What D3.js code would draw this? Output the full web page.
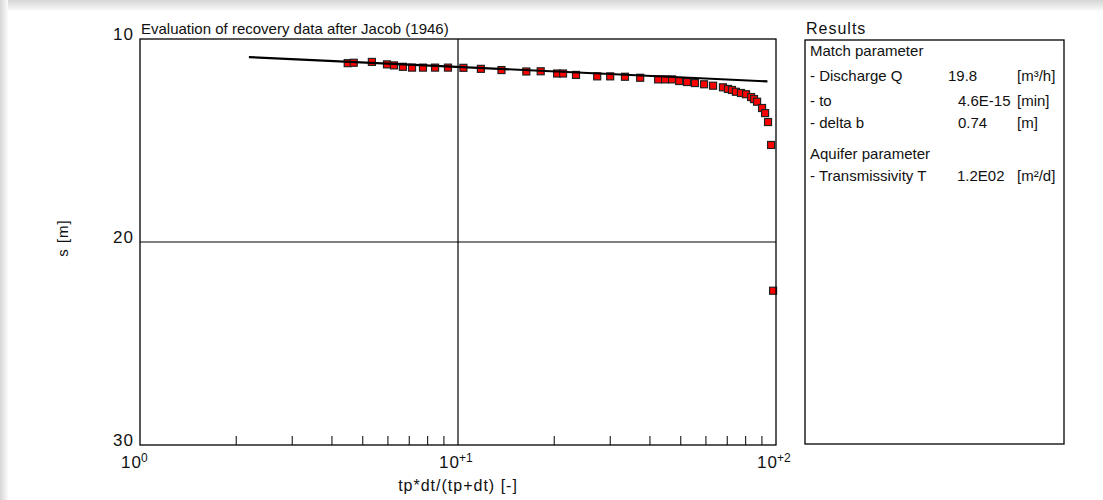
<!DOCTYPE html>
<html>
<head>
<meta charset="utf-8">
<script src="https://cdn.jsdelivr.net/npm/d3@7"></script>
<style>
  body { margin: 0; background: #fff; }
  svg { display: block; font-family: "Liberation Sans", Arial, sans-serif; }
</style>
</head>
<body>
<svg id="chart" width="1103" height="500"></svg>
<script>
// measured recovery data: x = tp*dt/(tp+dt) [-], s [m]
var recoveryX = [4.5, 4.7, 5.36, 5.98, 6.29, 6.71, 7.17, 7.76, 8.47, 9.30,
    10.4, 11.8, 13.7, 16.4, 18.2, 20.5, 21.4, 23.5, 27.4, 30.1,
    33.5, 37.4, 42.6, 44.8, 47.1, 49.6, 52.5, 55.6, 59.4, 63.4,
    68.1, 70.6, 72.7, 74.8, 77.6, 80.5, 83.5, 85.3, 87.2, 90.4,
    92.4, 94.4, 96.5, 97.9];
var recoveryS = [11.19, 11.17, 11.13, 11.25, 11.30, 11.37, 11.41, 11.41, 11.41, 11.41,
    11.42, 11.47, 11.53, 11.60, 11.59, 11.70, 11.70, 11.77, 11.84, 11.84,
    11.86, 11.91, 11.99, 11.99, 11.99, 12.07, 12.12, 12.17, 12.23, 12.30,
    12.38, 12.46, 12.51, 12.60, 12.66, 12.72, 12.86, 12.96, 13.09, 13.40,
    13.65, 14.09, 15.22, 22.40];

// Jacob straight line end points
var lineX = [2.2, 94];
var lineS = [10.89, 12.09];

var xMajor = [1, 10, 100];
var xMajorExp = ["0", "+1", "+2"];
var yTicks = [10, 20, 30];

var resultRows = [
    { label: "Match parameter", value: "", unit: "" },
    { label: "- Discharge Q", value: "19.8", unit: "[m\u00b3/h]" },
    { label: "- to", value: "4.6E-15", unit: "[min]" },
    { label: "- delta b", value: "0.74", unit: "[m]" },
    { label: "Aquifer parameter", value: "", unit: "" },
    { label: "- Transmissivity T", value: "1.2E02", unit: "[m\u00b2/d]" }
];
var resultY = [56, 81, 106, 128, 159, 181];
var resultValueX = [0, 948, 958, 958, 0, 957];

var svg = d3.select("#chart");

// faint window shadow on top and left
var defs = svg.append("defs");
var gTop = defs.append("linearGradient").attr("id", "shTop").attr("x1", 0).attr("y1", 0).attr("x2", 0).attr("y2", 1);
gTop.append("stop").attr("offset", "0%").attr("stop-color", "#d6d6d6");
gTop.append("stop").attr("offset", "100%").attr("stop-color", "#fbfbfb");
var gLeft = defs.append("linearGradient").attr("id", "shLeft").attr("x1", 0).attr("y1", 0).attr("x2", 1).attr("y2", 0);
gLeft.append("stop").attr("offset", "0%").attr("stop-color", "#d6d6d6");
gLeft.append("stop").attr("offset", "100%").attr("stop-color", "#fbfbfb");
svg.append("rect").attr("x", 0).attr("y", 0).attr("width", 1103).attr("height", 11).attr("fill", "url(#shTop)");
svg.append("rect").attr("x", 0).attr("y", 0).attr("width", 8).attr("height", 500).attr("fill", "url(#shLeft)");

var plotL = 140, plotR = 776, plotT = 39, plotB = 445;

var x = d3.scaleLog().domain([1, 100]).range([plotL, plotR]);
var y = d3.scaleLinear().domain([10, 30]).range([plotT, plotB]);

// minor ticks along the bottom edge
var minor = [];
[1, 10].forEach(function(d) {
    for (var k = 2; k <= 9; k++) minor.push(d * k);
});
svg.append("g")
    .attr("transform", "translate(0," + plotB + ")")
    .call(d3.axisBottom(x).tickValues(minor).tickSizeInner(-9).tickSizeOuter(0).tickFormat(""))
    .call(function(g) {
        g.select(".domain").remove();
        g.selectAll("line").attr("stroke", "#000");
    });

// grid lines
svg.append("line")
    .attr("x1", x(10)).attr("x2", x(10)).attr("y1", plotT).attr("y2", plotB)
    .attr("stroke", "#000").attr("stroke-width", 1.2);
svg.append("line")
    .attr("x1", plotL).attr("x2", plotR).attr("y1", y(20)).attr("y2", y(20))
    .attr("stroke", "#000").attr("stroke-width", 1.2);

// data points
svg.append("g").selectAll("rect")
    .data(recoveryX)
    .enter()
    .append("rect")
    .attr("x", function(d) { return x(d) - 3.5; })
    .attr("y", function(d, i) { return y(recoveryS[i]) - 3.5; })
    .attr("width", 7)
    .attr("height", 7)
    .attr("fill", "#ff0000")
    .attr("stroke", "#222")
    .attr("stroke-width", 1.2);

// Jacob line
var line = d3.line()
    .x(function(d) { return x(d); })
    .y(function(d, i) { return y(lineS[i]); });
svg.append("path")
    .attr("d", line(lineX))
    .attr("fill", "none")
    .attr("stroke", "#000")
    .attr("stroke-width", 2.2);

// plot frame
svg.append("rect")
    .attr("x", plotL).attr("y", plotT)
    .attr("width", plotR - plotL).attr("height", plotB - plotT)
    .attr("fill", "none").attr("stroke", "#000").attr("stroke-width", 1.3);

// y labels
svg.append("g").selectAll("text")
    .data(yTicks)
    .enter()
    .append("text")
    .attr("x", 134)
    .attr("y", function(d) { return y(d) + 1; })
    .attr("text-anchor", "end")
    .attr("font-size", "17px")
    .attr("letter-spacing", "1px")
    .attr("fill", "#111")
    .text(function(d) { return d; });

// x labels 10^n
var xl = svg.append("g").selectAll("g")
    .data(xMajor)
    .enter()
    .append("g");
xl.append("text")
    .attr("x", function(d) { return x(d) + 2; })
    .attr("y", 468)
    .attr("text-anchor", "end")
    .attr("font-size", "17px")
    .attr("letter-spacing", "1px")
    .attr("fill", "#111")
    .text("10");
xl.append("text")
    .attr("x", function(d) { return x(d) + 1; })
    .attr("y", 462)
    .attr("font-size", "12px")
    .attr("fill", "#111")
    .text(function(d, i) { return xMajorExp[i]; });

// titles
svg.append("text")
    .attr("x", 141).attr("y", 34)
    .attr("font-size", "15px")
    .attr("fill", "#111")
    .text("Evaluation of recovery data after Jacob (1946)");

svg.append("text")
    .attr("x", (plotL + plotR) / 2).attr("y", 491)
    .attr("text-anchor", "middle")
    .attr("font-size", "16px")
    .attr("letter-spacing", "1px")
    .attr("fill", "#111")
    .text("tp*dt/(tp+dt) [-]");

svg.append("text")
    .attr("transform", "translate(68," + ((plotT + plotB) / 2 - 4) + ") rotate(-90)")
    .attr("text-anchor", "middle")
    .attr("font-size", "15px")
    .attr("letter-spacing", "1px")
    .attr("fill", "#111")
    .text("s [m]");

// results panel
svg.append("text")
    .attr("x", 806).attr("y", 34)
    .attr("font-size", "16px")
    .attr("letter-spacing", "1px")
    .attr("fill", "#111")
    .text("Results");
svg.append("rect")
    .attr("x", 805).attr("y", 40)
    .attr("width", 259).attr("height", 404)
    .attr("fill", "none").attr("stroke", "#000").attr("stroke-width", 1.3);

var rows = svg.append("g").selectAll("g")
    .data(resultRows)
    .enter()
    .append("g");
rows.append("text")
    .attr("x", 810)
    .attr("y", function(d, i) { return resultY[i]; })
    .attr("font-size", "15px")
    .attr("fill", "#111")
    .text(function(d) { return d.label; });
rows.append("text")
    .attr("x", function(d, i) { return resultValueX[i]; })
    .attr("y", function(d, i) { return resultY[i]; })
    .attr("font-size", "15px")
    .attr("fill", "#111")
    .text(function(d) { return d.value; });
rows.append("text")
    .attr("x", 1017)
    .attr("y", function(d, i) { return resultY[i]; })
    .attr("font-size", "15px")
    .attr("fill", "#111")
    .text(function(d) { return d.unit; });
</script>
</body>
</html>
